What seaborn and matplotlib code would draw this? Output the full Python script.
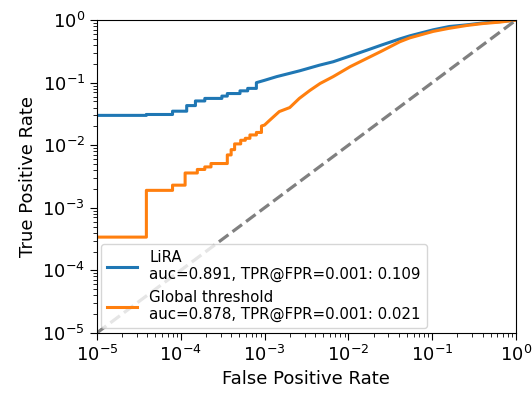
import matplotlib
matplotlib.use("Agg")
import matplotlib.pyplot as plt
import seaborn as sns
import pandas as pd

# ROC curve points (false positive rate, true positive rate), in drawing order
lira_fpr = [1e-5, 3.9e-5, 3.9e-5, 8e-5, 8e-5, 1.18e-4, 1.18e-4, 1.5e-4, 1.5e-4, 1.94e-4,
            1.94e-4, 3.1e-4, 3.1e-4, 3.6e-4, 3.6e-4, 5.1e-4, 5.1e-4, 6.3e-4, 6.3e-4, 8e-4,
            8e-4, 1e-3, 1.4e-3, 2e-3, 2.64e-3, 4.5e-3, 6.6e-3, 0.01, 0.0166, 0.025,
            0.041, 0.054, 0.103, 0.16, 0.258, 0.4, 0.645, 1.0]
lira_tpr = [0.030, 0.030, 0.031, 0.031, 0.035, 0.035, 0.043, 0.043, 0.051, 0.051,
            0.056, 0.056, 0.061, 0.061, 0.067, 0.067, 0.074, 0.074, 0.081, 0.081,
            0.100, 0.109, 0.125, 0.141, 0.155, 0.19, 0.216, 0.261, 0.33, 0.40,
            0.50, 0.56, 0.70, 0.79, 0.84, 0.90, 0.945, 1.0]

glob_fpr = [1e-5, 3.9e-5, 3.9e-5, 8e-5, 8e-5, 1.13e-4, 1.13e-4, 1.58e-4, 1.58e-4, 1.94e-4,
            1.94e-4, 2.3e-4, 2.3e-4, 3.6e-4, 3.6e-4, 4.0e-4, 4.0e-4, 4.4e-4, 4.4e-4, 5.2e-4,
            5.2e-4, 5.9e-4, 5.9e-4, 6.7e-4, 6.7e-4, 8e-4, 8e-4, 9.2e-4, 9.2e-4, 1e-3,
            1.15e-3, 1.5e-3, 2e-3, 2.6e-3, 3.47e-3, 4.6e-3, 6.6e-3, 0.0105, 0.0166, 0.025,
            0.041, 0.054, 0.103, 0.16, 0.258, 0.4, 0.645, 1.0]
glob_tpr = [3.4e-4, 3.4e-4, 1.9e-3, 1.9e-3, 2.3e-3, 2.3e-3, 3.6e-3, 3.6e-3, 4.1e-3, 4.1e-3,
            4.5e-3, 4.5e-3, 5.1e-3, 5.1e-3, 7.0e-3, 7.0e-3, 8.5e-3, 8.5e-3, 0.0105, 0.0105,
            0.0120, 0.0120, 0.0129, 0.0129, 0.0146, 0.0146, 0.0160, 0.0160, 0.0203, 0.021,
            0.025, 0.0345, 0.040, 0.056, 0.075, 0.097, 0.125, 0.18, 0.244, 0.32,
            0.45, 0.52, 0.66, 0.74, 0.82, 0.88, 0.93, 1.0]

labels = ["LiRA\nauc=0.891, TPR@FPR=0.001: 0.109",
          "Global threshold\nauc=0.878, TPR@FPR=0.001: 0.021"]
chance = [1e-5, 1.0]

df_lira = pd.DataFrame({"fpr": lira_fpr, "tpr": lira_tpr})
df_glob = pd.DataFrame({"fpr": glob_fpr, "tpr": glob_tpr})

plt.rcParams["font.family"] = ["DejaVu Sans"]
fig = plt.figure(figsize=(5.32, 3.94), dpi=100)
ax = fig.add_axes([0.182, 0.155, 0.788, 0.794])

sns.lineplot(data=df_lira, x="fpr", y="tpr", estimator=None, sort=False,
             color="#1f77b4", linewidth=2.2, label=labels[0], ax=ax)
sns.lineplot(data=df_glob, x="fpr", y="tpr", estimator=None, sort=False,
             color="#ff7f0e", linewidth=2.2, label=labels[1], ax=ax)
ax.plot(chance, chance, ls="--", color="gray", lw=2.3)

ax.set_xscale("log")
ax.set_yscale("log")
ax.set_xlim(1e-5, 1)
ax.set_ylim(1e-5, 1)
ax.set_xlabel("False Positive Rate", fontsize=13)
ax.set_ylabel("True Positive Rate", fontsize=13)
ax.tick_params(axis="both", which="major", labelsize=13, length=5)
ax.tick_params(axis="both", which="minor", length=3)
ax.legend(loc="lower left", fontsize=10.8, framealpha=0.8, borderaxespad=0.3)

fig.savefig("out.png", dpi=100)
